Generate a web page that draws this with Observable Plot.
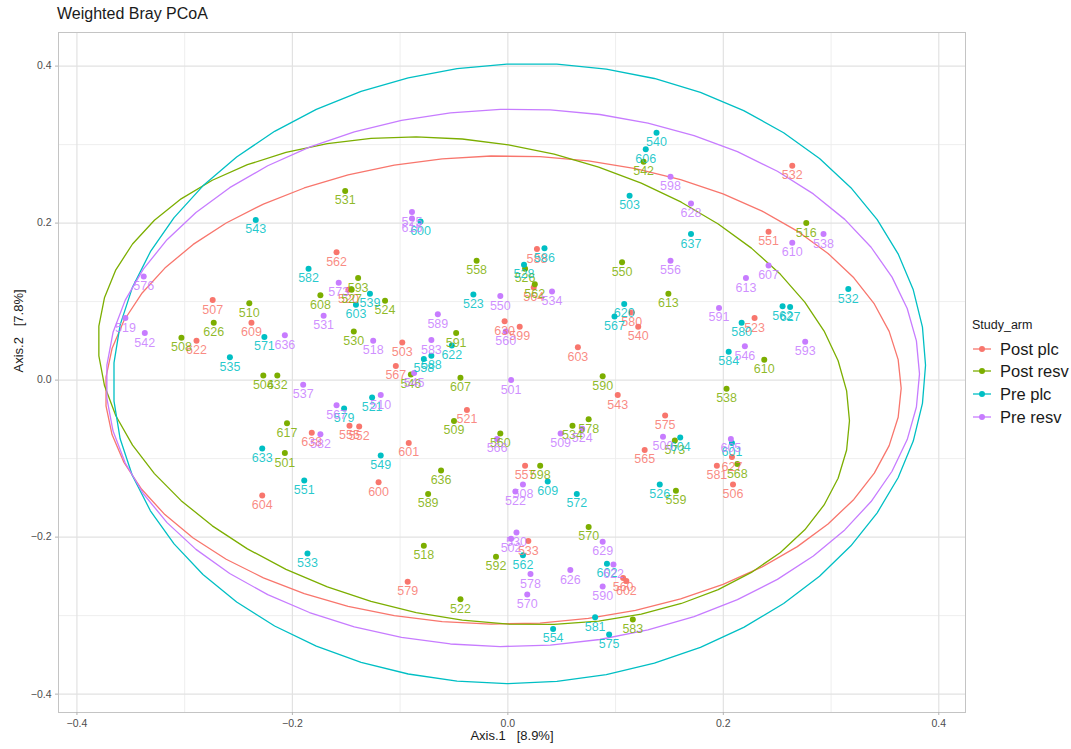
<!DOCTYPE html>
<html><head><meta charset="utf-8">
<script src="https://cdn.jsdelivr.net/npm/d3@7"></script>
<script src="https://cdn.jsdelivr.net/npm/@observablehq/plot@0.6"></script>
<style>
body{margin:0;background:#fff;font-family:"Liberation Sans",Arial,sans-serif;}
#wrap{position:relative;width:1071px;height:749px;overflow:hidden;background:#fff;}
#title{position:absolute;left:57px;top:5px;font-size:16px;color:#1a1a1a;white-space:nowrap;}
#chart{position:absolute;left:0;top:28px;}
#legend{position:absolute;left:0;top:0;width:1071px;height:749px;pointer-events:none;}
.lt{position:absolute;white-space:nowrap;color:#1a1a1a;}
</style></head><body>
<div id="wrap"><div id="title">Weighted Bray PCoA</div><div id="chart"></div><div id="legend"></div></div>
<script>
// ---- data: [sample id, Axis.1, Axis.2] ----
const postPlc = [
["562",-0.159,0.163],["507",-0.274,0.102],["609",-0.238,0.073],["622",-0.289,0.050],
["520",-0.148,0.115],["503",-0.098,0.048],["567",-0.104,0.018],["630",-0.003,0.075],
["599",0.011,0.068],["588",0.027,0.167],["564",0.024,0.118],["603",0.065,0.042],
["580",0.115,0.086],["540",0.121,0.068],["543",0.102,-0.019],["532",0.264,0.273],
["551",0.242,0.189],["523",0.229,0.079],["575",0.146,-0.045],["565",0.127,-0.089],
["627",0.208,-0.098],["581",0.194,-0.109],["506",0.209,-0.133],["521",-0.038,-0.038],
["601",-0.092,-0.080],["600",-0.120,-0.130],["604",-0.228,-0.147],["638",-0.182,-0.067],
["555",-0.147,-0.058],["552",-0.138,-0.059],["557",0.016,-0.109],["533",0.019,-0.205],
["579",-0.093,-0.257],["560",0.107,-0.252],["602",0.110,-0.256]
];
const postResv = [
["531",-0.151,0.241],["510",-0.240,0.098],["626",-0.273,0.073],["508",-0.303,0.054],
["504",-0.227,0.006],["632",-0.214,0.006],["608",-0.174,0.108],["593",-0.139,0.130],
["527",-0.145,0.115],["524",-0.114,0.101],["530",-0.143,0.062],["591",-0.048,0.060],
["546",-0.090,0.007],["607",-0.044,0.003],["558",-0.029,0.152],["526",0.016,0.142],
["562",0.025,0.122],["550",0.106,0.150],["542",0.126,0.278],["516",0.277,0.200],
["613",0.149,0.110],["610",0.238,0.026],["538",0.203,-0.011],["590",0.088,0.005],
["578",0.075,-0.050],["534",0.060,-0.058],["573",0.155,-0.077],["568",0.213,-0.107],
["559",0.156,-0.141],["509",-0.050,-0.052],["560",-0.007,-0.068],["598",0.030,-0.109],
["636",-0.062,-0.115],["589",-0.074,-0.145],["617",-0.205,-0.055],["501",-0.207,-0.093],
["518",-0.078,-0.211],["570",0.075,-0.187],["592",-0.011,-0.225],["522",-0.044,-0.279],
["583",0.116,-0.305]
];
const prePlc = [
["543",-0.234,0.204],["582",-0.185,0.142],["539",-0.128,0.110],["603",-0.141,0.096],
["571",-0.226,0.055],["535",-0.258,0.029],["600",-0.081,0.202],["586",0.034,0.168],
["528",0.015,0.147],["523",-0.032,0.109],["503",0.113,0.235],["606",0.128,0.294],
["540",0.138,0.315],["637",0.170,0.186],["620",0.108,0.097],["567",0.099,0.081],
["532",0.316,0.116],["562",0.255,0.094],["627",0.262,0.093],["580",0.217,0.073],
["584",0.205,0.036],["622",-0.052,0.044],["558",-0.078,0.027],["588",-0.071,0.031],
["521",-0.126,-0.022],["579",-0.152,-0.036],["633",-0.228,-0.087],["551",-0.189,-0.128],
["549",-0.118,-0.096],["604",0.160,-0.073],["601",0.208,-0.080],["526",0.141,-0.133],
["609",0.037,-0.129],["572",0.064,-0.145],["533",-0.186,-0.221],["562",0.014,-0.223],
["602",0.092,-0.234],["581",0.081,-0.302],["554",0.042,-0.317],["575",0.094,-0.324]
];
const preResv = [
["576",-0.338,0.132],["519",-0.355,0.079],["542",-0.337,0.060],["636",-0.207,0.057],
["537",-0.190,-0.006],["573",-0.157,0.124],["531",-0.171,0.082],["525",-0.089,0.214],
["616",-0.089,0.206],["589",-0.065,0.084],["583",-0.071,0.051],["518",-0.125,0.050],
["545",-0.087,0.009],["550",-0.007,0.107],["534",0.041,0.113],["560",-0.002,0.062],
["501",0.003,0.000],["510",-0.118,-0.019],["567",-0.159,-0.032],["582",-0.174,-0.069],
["566",-0.010,-0.075],["509",0.049,-0.068],["524",0.069,-0.062],["500",0.144,-0.072],
["605",0.207,-0.075],["508",0.014,-0.133],["522",0.007,-0.142],["530",0.008,-0.194],
["502",0.003,-0.202],["629",0.088,-0.206],["578",0.021,-0.247],["626",0.058,-0.242],
["622",0.098,-0.235],["590",0.088,-0.263],["570",0.018,-0.273],["598",0.151,0.259],
["628",0.170,0.225],["556",0.151,0.152],["613",0.221,0.130],["607",0.242,0.146],
["610",0.264,0.175],["538",0.293,0.186],["591",0.196,0.092],["546",0.220,0.043],
["593",0.276,0.049]
];
const groupNames = ["Post plc","Post resv","Pre plc","Pre resv"];
const groupColors = ["#F8766D","#7CAE00","#00BFC4","#C77CFF"];
// 95% ellipse parameters per group (centre, x half-width, y coupling, y radius)
const ellipseCx = [-0.0043,-0.0316,0.0107,0.0046];
const ellipseCy = [-0.0126,-0.0009,0.0083,0.0029];
const ellipseA  = [0.3694,0.3487,0.3770,0.3775];
const ellipseB  = [0.0020,-0.0508,0.0107,0.0050];
const ellipseC  = [0.2983,0.3066,0.3948,0.3423];
const xMajor = [-0.4,-0.2,0,0.2,0.4];
const xMinor = [-0.3,-0.1,0.1,0.3];
const yMajor = [-0.4,-0.2,0,0.2,0.4];
const yMinor = [-0.3,-0.1,0.1,0.3];
const xDomain = [-0.4171,0.4248];
const yDomain = [-0.4234,0.4428];

// ---- build tables ----
const groupData = [postPlc, postResv, prePlc, preResv];
const points = groupData.flatMap((arr, gi) => arr.map(([id, x, y]) => ({id, x, y, group: groupNames[gi]})));
const segs = 51;
const ellipses = groupNames.flatMap((g, gi) => d3.range(segs + 1).map(k => {
  const t = 2 * Math.PI * k / segs;
  return {group: g, x: ellipseCx[gi] + ellipseA[gi] * Math.cos(t),
          y: ellipseCy[gi] + ellipseB[gi] * Math.cos(t) + ellipseC[gi] * Math.sin(t)};
}));
const fmt = d => d === 0 ? "0.0" : (d < 0 ? "\u2212" : "") + Math.abs(d).toFixed(1);

const plot = Plot.plot({
  width: 1071, height: 721,
  marginLeft: 58, marginRight: 106, marginTop: 4, marginBottom: 37,
  style: {fontFamily: '"Liberation Sans", Arial, sans-serif', background: "#fff"},
  x: {domain: xDomain},
  y: {domain: yDomain},
  color: {domain: groupNames, range: groupColors},
  marks: [
    Plot.ruleX(xMinor, {stroke: "#ececec", strokeWidth: 0.9}),
    Plot.ruleY(yMinor, {stroke: "#ececec", strokeWidth: 0.9}),
    Plot.ruleX(xMajor, {stroke: "#e2e2e2", strokeWidth: 1.2}),
    Plot.ruleY(yMajor, {stroke: "#e2e2e2", strokeWidth: 1.2}),
    Plot.frame({stroke: "#c4c4c4", strokeWidth: 1}),
    Plot.axisX({ticks: xMajor, tickFormat: fmt, tickSize: 3, tickPadding: 4, fontSize: 10.5, stroke: "#b3b3b3", fill: "#4d4d4d", label: null}),
    Plot.axisY({ticks: yMajor, tickFormat: fmt, tickSize: 3, tickPadding: 4, fontSize: 10.5, stroke: "#b3b3b3", fill: "#4d4d4d", label: null}),
    Plot.line(ellipses, {x: "x", y: "y", z: "group", stroke: "group", strokeWidth: 1.3}),
    Plot.dot(points, {x: "x", y: "y", fill: "group", r: 3}),
    Plot.text(points, {x: "x", y: "y", text: "id", fill: "group", dy: 9.5, fontSize: 12.5, fillOpacity: 0.85}),
    Plot.text(["Axis.1\u00a0\u00a0\u00a0[8.9%]"], {frameAnchor: "bottom", dy: 27, fontSize: 13, fill: "#1a1a1a"}),
    Plot.text(["Axis.2\u00a0\u00a0\u00a0[7.8%]"], {frameAnchor: "left", dx: -40, rotate: -90, fontSize: 13, fill: "#1a1a1a"})
  ]
});
document.getElementById("chart").appendChild(plot);

// ---- legend ----
const leg = document.getElementById("legend");
const lt = document.createElement("div");
lt.className = "lt"; lt.textContent = "Study_arm";
lt.style.left = "972px"; lt.style.top = "318px"; lt.style.fontSize = "12.5px";
leg.appendChild(lt);
groupNames.forEach((g, i) => {
  const cy = 348.5 + 22.8 * i;
  const ns = "http://www.w3.org/2000/svg";
  const s = document.createElementNS(ns, "svg");
  s.setAttribute("width", 22); s.setAttribute("height", 14);
  s.style.position = "absolute"; s.style.left = "971px"; s.style.top = (cy - 7) + "px";
  const ln = document.createElementNS(ns, "line");
  ln.setAttribute("x1", 2); ln.setAttribute("x2", 20); ln.setAttribute("y1", 7); ln.setAttribute("y2", 7);
  ln.setAttribute("stroke", groupColors[i]); ln.setAttribute("stroke-width", 1.3);
  const c = document.createElementNS(ns, "circle");
  c.setAttribute("cx", 11); c.setAttribute("cy", 7); c.setAttribute("r", 3); c.setAttribute("fill", groupColors[i]);
  s.appendChild(ln); s.appendChild(c); leg.appendChild(s);
  const t = document.createElement("div");
  t.className = "lt"; t.textContent = g; t.style.fontSize = "16.5px";
  t.style.left = "1000px"; t.style.top = (cy - 10) + "px"; t.style.lineHeight = "20px";
  leg.appendChild(t);
});
</script></body></html>
